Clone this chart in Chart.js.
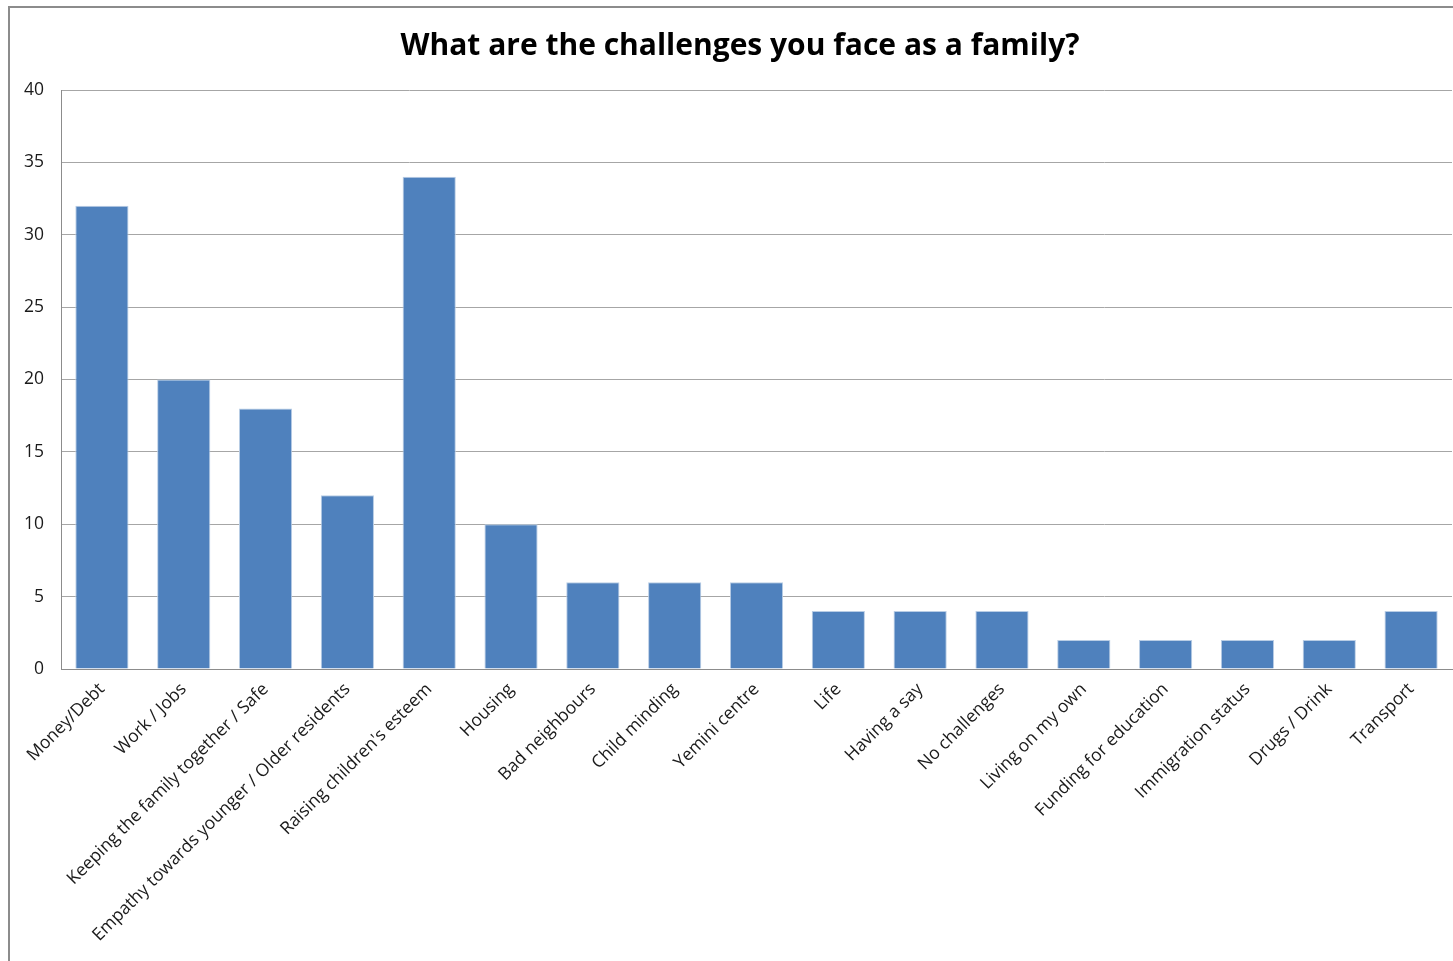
<!DOCTYPE html>
<html>
<head>
<meta charset="utf-8">
<title>Family challenges</title>
<script src="https://cdn.jsdelivr.net/npm/chart.js@4.4.1/dist/chart.umd.min.js"></script>
<style>
  html, body {
    margin: 0;
    padding: 0;
    background: #fff;
    overflow: hidden;
    width: 1453px;
    height: 961px;
  }
  #frame {
    position: absolute;
    left: 8px;
    top: 6px;
    width: 1460px;
    height: 993px;
    border: 2px solid #8c8c8c;
    background: #fff;
  }
</style>
</head>
<body>
<div id="frame">
  <canvas id="challengesChart" width="1460" height="993"></canvas>
</div>
<script>
// Survey answers: number of families naming each challenge
const categories = [
  "Money/Debt",
  "Work / Jobs",
  "Keeping the family together / Safe",
  "Empathy towards younger / Older residents",
  "Raising children's esteem",
  "Housing",
  "Bad neighbours",
  "Child minding",
  "Yemini centre",
  "Life",
  "Having a say",
  "No challenges",
  "Living on my own",
  "Funding for education",
  "Immigration status",
  "Drugs / Drink",
  "Transport",
];
const counts = [32, 20, 18, 12, 34, 10, 6, 6, 6, 4, 4, 4, 2, 2, 2, 2, 4];
const yTicks = [0, 5, 10, 15, 20, 25, 30, 35, 40];

const FONT = "'Open Sans', 'Liberation Sans', sans-serif";

const ctx = document.getElementById("challengesChart").getContext("2d");
new Chart(ctx, {
  type: "bar",
  data: {
    labels: categories,
    datasets: [
      {
        label: "Challenges",
        data: counts,
        backgroundColor: "#4f81bd",
        borderColor: "#b9cde5",
        borderWidth: { top: 1, left: 1, right: 1, bottom: 0 },
        categoryPercentage: 1,
        barPercentage: 0.65,
      },
    ],
  },
  options: {
    responsive: false,
    animation: false,
    layout: {
      padding: 0,
    },
    plugins: {
      legend: { display: false },
      tooltip: { enabled: false },
      title: {
        display: true,
        text: "What are the challenges you face as a family?",
        color: "#000",
        font: { family: FONT, size: 30, weight: "bold" },
        padding: { top: 20, bottom: 26 },
      },
    },
    scales: {
      x: {
        grid: { display: false, drawTicks: false },
        border: { color: "#8c8c8c", width: 1 },
        ticks: {
          color: "#1a1a1a",
          font: { family: FONT, size: 17.5 },
          maxRotation: 45,
          minRotation: 45,
          autoSkip: false,
          padding: 10,
        },
        afterFit: (scale) => {
          scale.height = 332;
        },
      },
      y: {
        min: 0,
        max: 40,
        afterBuildTicks: (scale) => {
          scale.ticks = yTicks.map((v) => ({ value: v }));
        },
        grid: { color: "#a6a6a6", drawTicks: false, lineWidth: 1 },
        border: { color: "#8c8c8c", width: 1 },
        ticks: {
          color: "#1a1a1a",
          font: { family: FONT, size: 17.5 },
          padding: 17,
        },
        afterFit: (scale) => {
          scale.width = 51;
        },
      },
      // empty right-hand axis, only keeps a small margin after the last bar
      yRight: {
        position: "right",
        min: 0,
        max: 40,
        grid: { display: false, drawTicks: false },
        border: { display: false },
        ticks: { display: false },
        afterFit: (scale) => {
          scale.width = 18;
        },
      },
    },
  },
});
</script>
</body>
</html>
